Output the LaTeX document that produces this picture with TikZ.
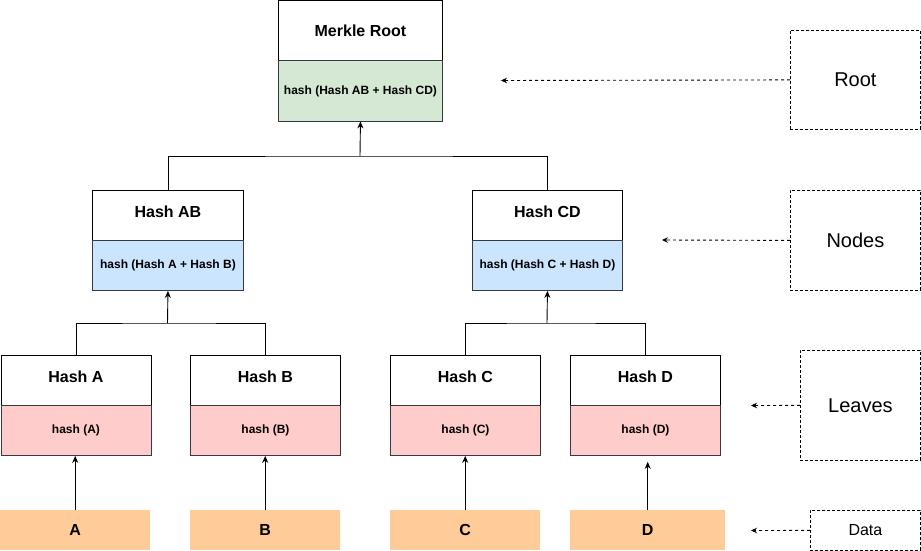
\documentclass[tikz,border=0pt]{standalone}
\usepackage{fontspec}
\setmainfont{Liberation Sans}
\usetikzlibrary{arrows.meta}

\definecolor{rootgreen}{HTML}{D5E8D4}
\definecolor{nodeblue}{HTML}{CCE5FF}
\definecolor{leafpink}{HTML}{FFCCCC}
\definecolor{dataorange}{HTML}{FFCC99}
\definecolor{edge}{HTML}{36393D}

\tikzset{
  titlebox/.style={draw=black, fill=white, line width=0.9pt, anchor=north west,
    minimum width=150pt, minimum height=50pt, inner sep=0pt,
    text height=11.5pt, text depth=8pt,
    font=\bfseries\fontsize{16}{19}\selectfont},
  hashbox/.style={draw=edge, line width=0.9pt, anchor=north west,
    minimum width=150pt, minimum height=50pt, inner sep=0pt,
    font=\bfseries\fontsize{12}{14}\selectfont},
  databox/.style={fill=dataorange, anchor=north west, minimum height=40pt,
    inner sep=0pt, font=\bfseries\fontsize{16}{19}\selectfont},
  labelbox/.style={draw=black, dashed, dash pattern=on 3pt off 2pt, line width=0.8pt,
    anchor=north west, inner sep=0pt, font=\fontsize{20}{24}\selectfont},
  link/.style={draw=black, line width=0.9pt},
  arr/.style={link, -{Stealth[length=7pt,width=6pt]}},
  hint/.style={draw=black, line width=0.9pt, dash pattern=on 3pt off 3pt,
    -{Stealth[length=6pt,width=5.5pt]}},
}

\begin{document}
\begin{tikzpicture}[x=1pt, y=-1pt]
  \useasboundingbox (0,0) rectangle (921,551);

  % Merkle root
  \node[titlebox, minimum width=164pt, minimum height=60pt, text depth=0pt] (rT) at (278,0.5) {Merkle Root};
  \node[hashbox, fill=rootgreen, minimum width=164pt, minimum height=60pt] (rH) at (278,60.5) {hash (Hash AB + Hash CD)};

  % Intermediate nodes
  \node[titlebox, minimum width=151pt] (abT) at (92,190) {Hash AB};
  \node[hashbox, fill=nodeblue, minimum width=151pt] (abH) at (92,240) {hash (Hash A + Hash B)};
  \node[titlebox] (cdT) at (472,190) {Hash CD};
  \node[hashbox, fill=nodeblue] (cdH) at (472,240) {hash (Hash C + Hash D)};

  % Leaves
  \node[titlebox] (aT) at (0.5,355) {Hash A};
  \node[hashbox, fill=leafpink] (aH) at (0.5,405) {hash (A)};
  \node[titlebox] (bT) at (190,355) {Hash B};
  \node[hashbox, fill=leafpink] (bH) at (190,405) {hash (B)};
  \node[titlebox] (cT) at (390,355) {Hash C};
  \node[hashbox, fill=leafpink] (cH) at (390,405) {hash (C)};
  \node[titlebox] (dT) at (570,355) {Hash D};
  \node[hashbox, fill=leafpink] (dH) at (570,405) {hash (D)};

  % Data blocks
  \node[databox, minimum width=150pt] (dA) at (0,510) {A};
  \node[databox, minimum width=150pt] (dB) at (190,510) {B};
  \node[databox, minimum width=150pt] (dC) at (390,510) {C};
  \node[databox, minimum width=155pt] (dD) at (570,510) {D};

  % Tree joins
  \coordinate (jRoot) at (360,156);
  \coordinate (jAB) at (167.5,323);
  \coordinate (jCD) at (547,323);

  \draw[link] (abT.north) |- (jRoot) -| (cdT.north);
  \draw[arr] (jRoot) -- (rH.south);
  \draw[link] (aT.north) |- (jAB) -| (bT.north);
  \draw[arr] (jAB) -- (abH.south);
  \draw[link] (cT.north) |- (jCD) -| (dT.north);
  \draw[arr] (jCD) -- (cdH.south);

  % Data into leaves
  \draw[arr] (dA.north) -- (dA.north |- aH.south);
  \draw[arr] (dB.north) -- (dB.north |- bH.south);
  \draw[arr] (dC.north) -- (dC.north |- cH.south);
  \draw[arr, shorten >=6pt] (dD.north) -- (dD.north |- dH.south);

  % Level labels
  \node[labelbox, minimum width=130pt, minimum height=99pt] (lRoot) at (790,30) {Root};
  \node[labelbox, minimum width=130pt, minimum height=100pt] (lNodes) at (790,190) {Nodes};
  \node[labelbox, minimum width=120pt, minimum height=110pt] (lLeaves) at (800,350) {Leaves};
  \node[labelbox, minimum width=110pt, minimum height=40pt, font=\fontsize{16}{19}\selectfont] (lData) at (810,510) {Data};

  \coordinate (pRoot) at (501,80.5);
  \coordinate (pNodes) at (662,240);
  \coordinate (pLeaves) at (751,405.5);
  \coordinate (pData) at (751,530.5);

  \draw[hint] (lRoot.west) -- (pRoot);
  \draw[hint] (lNodes.west) -- (pNodes);
  \draw[hint] (lLeaves.west) -- (pLeaves);
  \draw[hint] (lData.west) -- (pData);
\end{tikzpicture}
\end{document}
